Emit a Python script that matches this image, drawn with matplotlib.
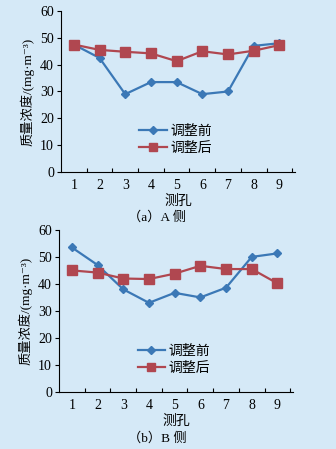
import numpy as np
import matplotlib.pyplot as plt

plt.rcParams['font.family'] = ['Liberation Serif', 'Noto Sans CJK SC', 'DejaVu Sans']

holes = [1, 2, 3, 4, 5, 6, 7, 8, 9]
a_before = [47.5, 42.5, 29.0, 33.5, 33.5, 29.0, 30.0, 47.0, 48.0]
a_after = [47.5, 45.5, 44.8, 44.2, 41.3, 45.0, 43.8, 45.2, 47.3]
b_before = [53.5, 47.0, 38.0, 33.0, 36.7, 35.0, 38.6, 50.0, 51.3]
b_after = [45.0, 44.2, 42.0, 41.8, 43.8, 46.7, 45.5, 45.5, 40.2]

bg = '#d5e9f7'
blue = '#3b78b6'
red = '#b04750'

fig = plt.figure(figsize=(3.36, 4.49), dpi=100, facecolor=bg)
ax1 = fig.add_axes([0.1815, 0.617, 0.696, 0.3585])
ax2 = fig.add_axes([0.1756, 0.127, 0.696, 0.361])


def draw(ax, before, after, caption, cx):
    ax.set_facecolor(bg)
    ax.plot(holes, before, color=blue, marker='D', markersize=4.5, lw=1.6, label='调整前')
    ax.plot(holes, after, color=red, marker='s', markersize=6.5, lw=1.6, label='调整后')
    ax.set_xlim(0.5, 9.6)
    ax.set_ylim(0, 60)
    ax.set_yticks(np.arange(0, 61, 10))
    ax.set_xticks(holes)
    ax.set_xticks(np.arange(1.5, 10, 1), minor=True)
    ax.tick_params(axis='x', which='major', length=0, pad=5, labelsize=10)
    ax.tick_params(axis='x', which='minor', direction='in', length=3, width=0.8)
    ax.tick_params(axis='y', direction='out', length=3, width=0.8, labelsize=10, pad=2)
    for s in ['top', 'right']:
        ax.spines[s].set_visible(False)
    for s in ['left', 'bottom']:
        ax.spines[s].set_linewidth(0.8)
    ax.set_ylabel('质量浓度/(mg·m⁻³)', fontsize=9.5, labelpad=4)
    ax.set_xlabel('测孔', fontsize=10, labelpad=2)
    ax.text(cx, -0.245, caption, transform=ax.transAxes, ha='center', va='top', fontsize=9.5)
    ax.legend(loc='center', bbox_to_anchor=(0.49, 0.2), frameon=False, fontsize=10,
              handlelength=2.0, handletextpad=0.2, labelspacing=0.3, markerscale=0.85)


draw(ax1, a_before, a_after, '（a）A 侧', 0.41)
draw(ax2, b_before, b_after, '（b）B 侧', 0.42)

fig.savefig('out.png', dpi=100, facecolor=bg)
